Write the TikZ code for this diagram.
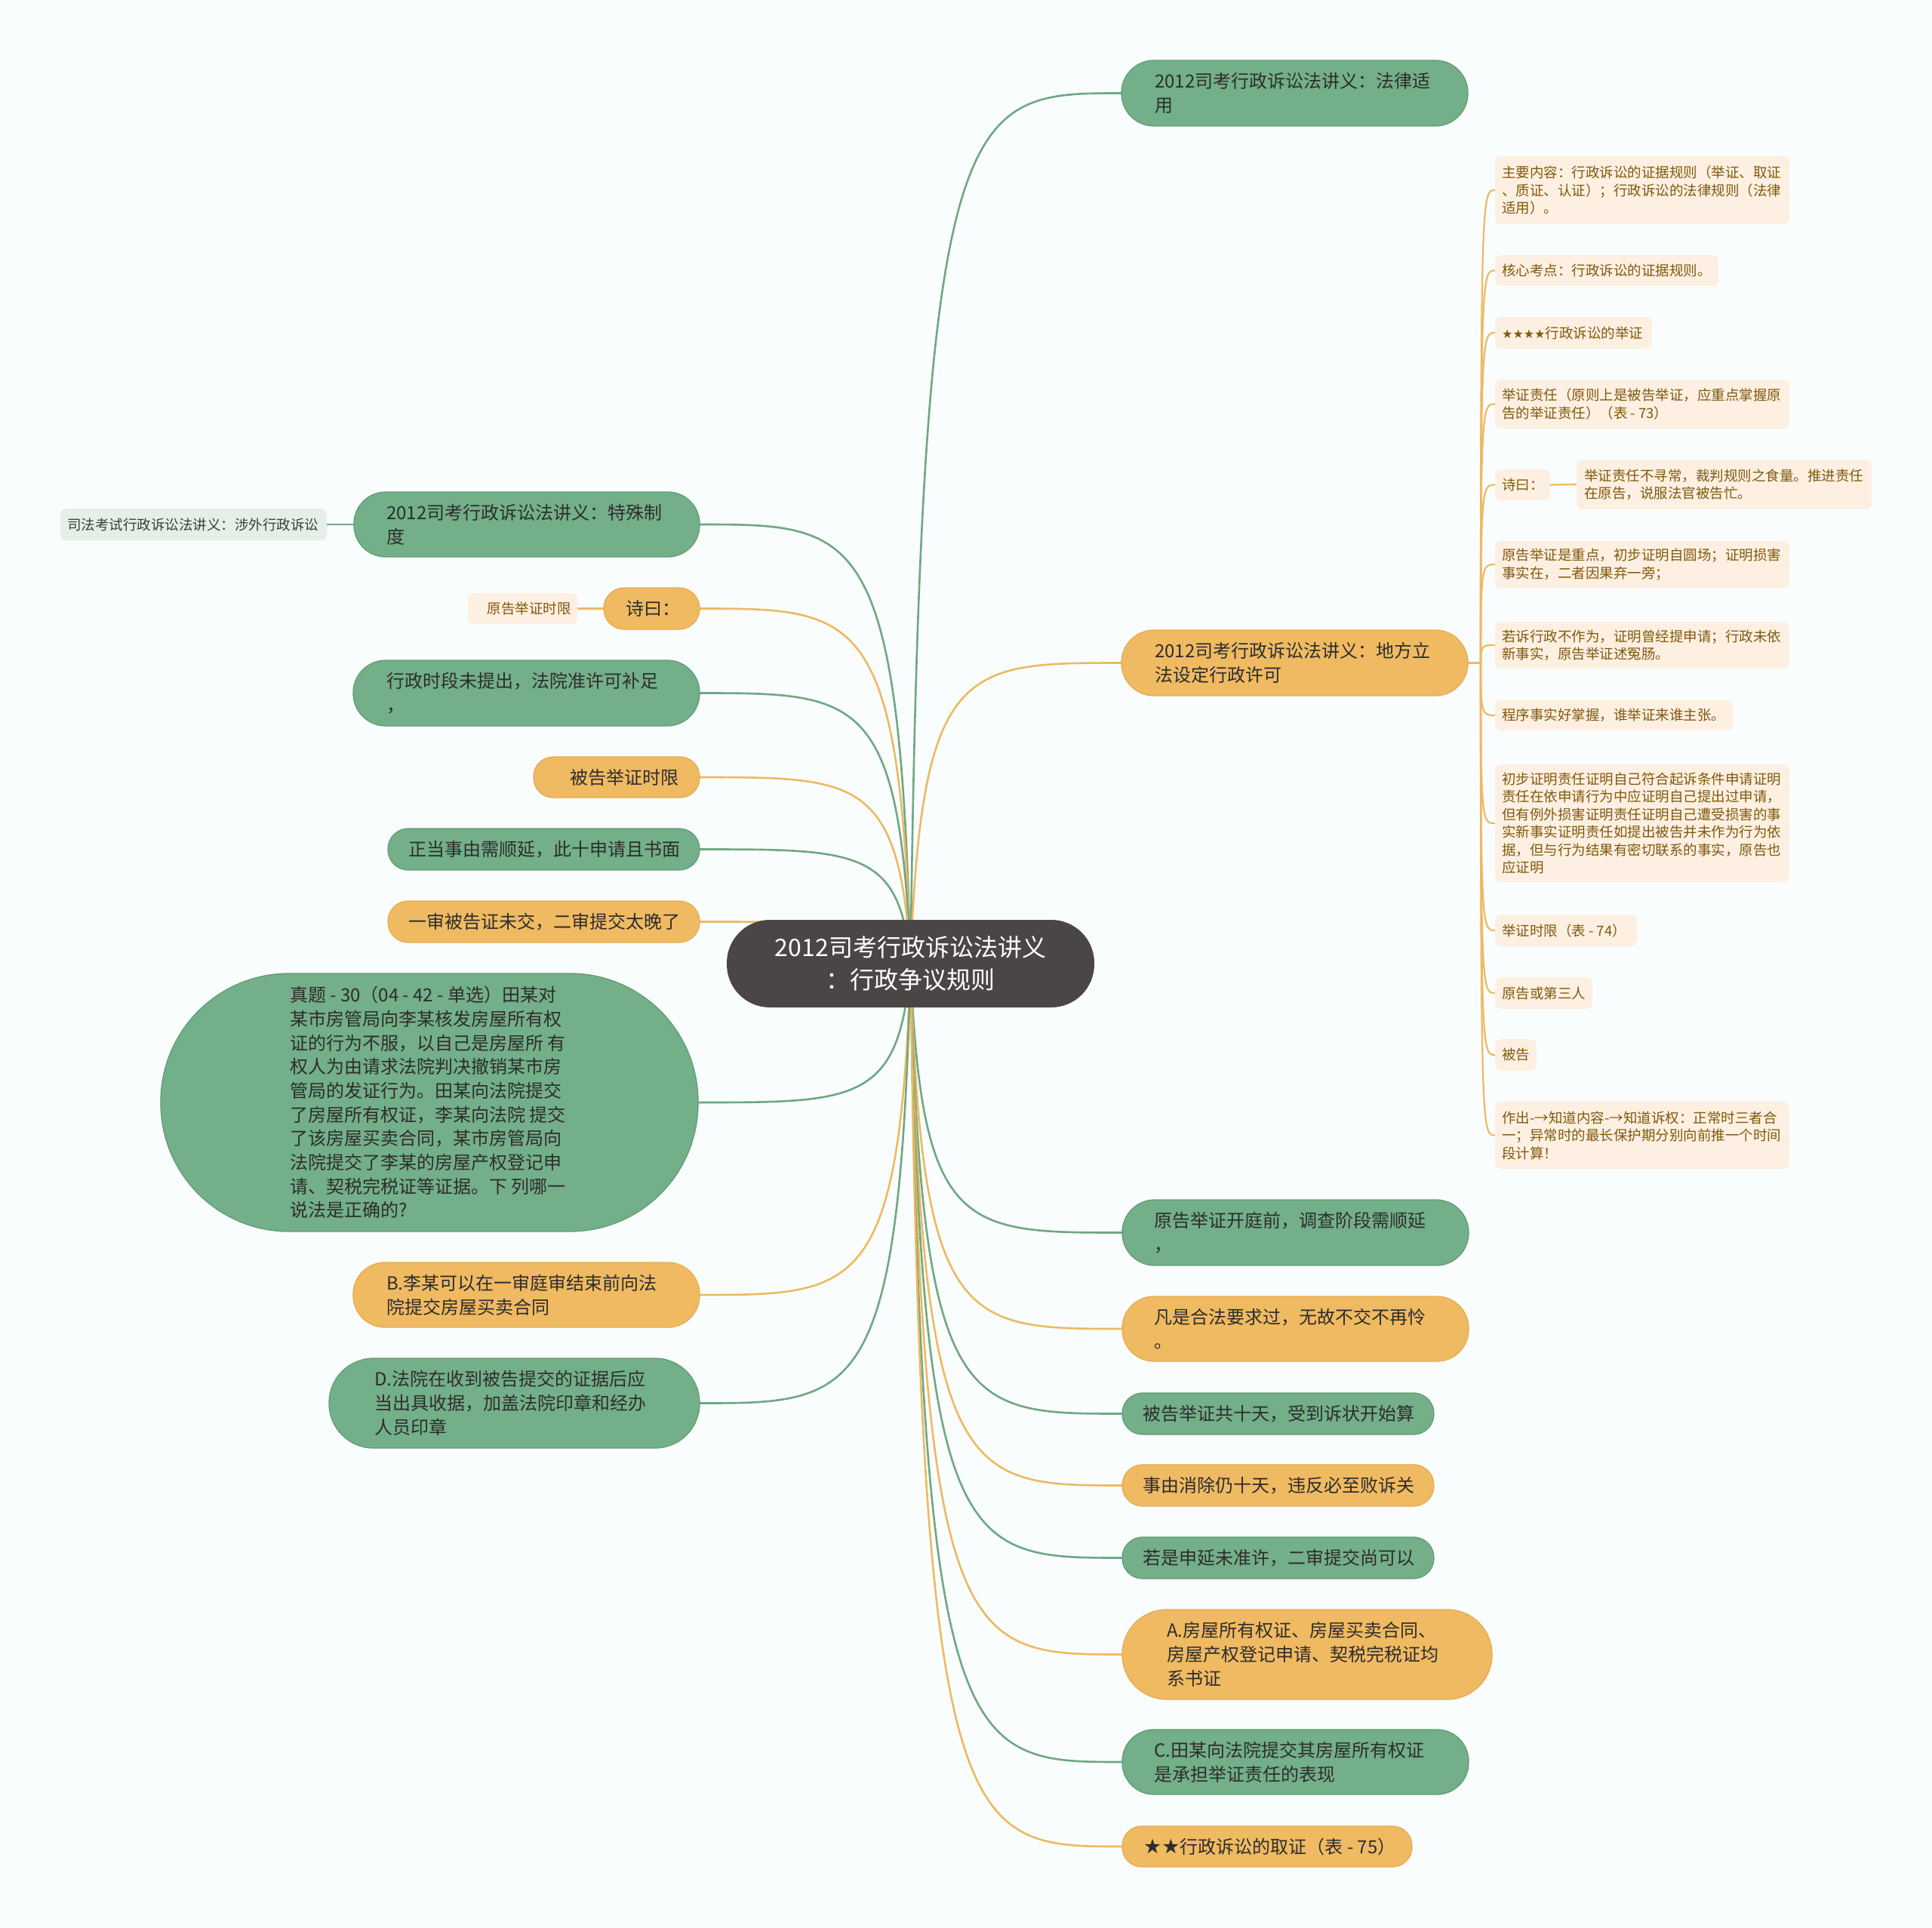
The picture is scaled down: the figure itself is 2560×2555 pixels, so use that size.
\documentclass[tikz,border=0pt]{standalone}
\usepackage{fontspec}
\setmainfont{Noto Sans CJK SC}
\newfontfamily\symf{DejaVu Sans}
\pgfdeclarelayer{bg}
\pgfsetlayers{bg,main}
\definecolor{bgcol}{RGB}{250,253,253}
\definecolor{gfill}{RGB}{115,175,136}
\definecolor{gdraw}{RGB}{98,158,118}
\definecolor{ofill}{RGB}{240,186,98}
\definecolor{odraw}{RGB}{230,172,82}
\definecolor{pfill}{RGB}{253,240,226}
\definecolor{lgfill}{RGB}{228,240,231}
\definecolor{cfill}{RGB}{75,70,70}
\definecolor{gcol}{RGB}{110,168,130}
\definecolor{ocol}{RGB}{238,185,98}
\definecolor{tmain}{RGB}{45,45,45}
\definecolor{tsub}{RGB}{130,88,12}
\definecolor{tlg}{RGB}{60,60,60}
\begin{document}
\begin{tikzpicture}[x=1pt,y=-1pt,
  box/.style={draw, line width=1.3pt, inner sep=0pt, outer sep=0pt},
  gbox/.style={box, fill=gfill, draw=gdraw},
  obox/.style={box, fill=ofill, draw=odraw},
  pbox/.style={fill=pfill, inner sep=0pt, outer sep=0pt, rounded corners=8pt},
  lgbox/.style={fill=lgfill, inner sep=0pt, outer sep=0pt, rounded corners=8pt},
  cbox/.style={fill=cfill, inner sep=0pt, outer sep=0pt},
  wh/.style 2 args={minimum width=#1pt, minimum height=#2pt},
  rc/.style={rounded corners=#1pt},
  mtxt/.style={inner sep=0pt, align=left, text=tmain, font=\fontsize{24}{32}\selectfont},
  stxt/.style={inner sep=0pt, align=left, text=tsub, font=\fontsize{18.5}{23.5}\selectfont},
  gline/.style={draw=gcol, line width=2.6pt},
  oline/.style={draw=ocol, line width=2.6pt},
  subline/.style={draw=ocol, line width=2.2pt},
]
\useasboundingbox (0,0) rectangle (2560,2555);
\begin{pgfonlayer}{bg}
\fill[bgcol] (0,0) rectangle (2560,2555);
\end{pgfonlayer}

% center
\node[cbox, rc=57, wh={487}{116}] (C) at (1206.5,1277) {};
\node[inner sep=0pt, align=center, text=white, font=\fontsize{32}{43}\selectfont] (Ct) at (C.center) {2012司考行政诉讼法讲义\\：行政争议规则};

% right main nodes
\node[gbox, rc=43, wh={459}{87}] (R1) at (1715.5,123.5) {};
\node[mtxt, anchor=west] (R1t) at ([xshift=44pt]R1.west) {2012司考行政诉讼法讲义：法律适\\用};
\node[obox, rc=43, wh={459}{87}] (R2) at (1715.5,878.5) {};
\node[mtxt, anchor=west] (R2t) at ([xshift=44pt]R2.west) {2012司考行政诉讼法讲义：地方立\\法设定行政许可};
\node[gbox, rc=43, wh={459}{87}] (R3) at (1716.5,1633.5) {};
\node[mtxt, anchor=west] (R3t) at ([xshift=42pt]R3.west) {原告举证开庭前，调查阶段需顺延\\，};
\node[obox, rc=42, wh={459}{86}] (R4) at (1716.5,1761) {};
\node[mtxt, anchor=west] (R4t) at ([xshift=42pt]R4.west) {凡是合法要求过，无故不交不再怜\\。};
\node[gbox, rc=27, wh={413}{55}] (R5) at (1693.5,1873.5) {};
\node[mtxt, anchor=west] (R5t) at ([xshift=27pt]R5.west) {被告举证共十天，受到诉状开始算};
\node[obox, rc=27, wh={413}{55}] (R6) at (1693.5,1968.5) {};
\node[mtxt, anchor=west] (R6t) at ([xshift=27pt]R6.west) {事由消除仍十天，违反必至败诉关};
\node[gbox, rc=27, wh={413}{55}] (R7) at (1693.5,2064.5) {};
\node[mtxt, anchor=west] (R7t) at ([xshift=27pt]R7.west) {若是申延未准许，二审提交尚可以};
\node[obox, rc=59, wh={490}{119}] (R8) at (1732,2192.5) {};
\node[mtxt, anchor=west] (R8t) at ([xshift=59pt]R8.west) {A.房屋所有权证、房屋买卖合同、\\房屋产权登记申请、契税完税证均\\系书证};
\node[gbox, rc=42, wh={459}{86}] (R9) at (1716.5,2335) {};
\node[mtxt, anchor=west] (R9t) at ([xshift=42pt]R9.west) {C.田某向法院提交其房屋所有权证\\是承担举证责任的表现};
\node[obox, rc=26, wh={384}{54}] (R10) at (1679,2447) {};
\node[mtxt, anchor=west] (R10t) at ([xshift=28pt]R10.west) {{\symf\fontsize{27}{27}\selectfont ★★}行政诉讼的取证（表 - 75）};

% left main nodes
\node[gbox, rc=42, wh={458}{86}] (L1) at (698,695) {};
\node[mtxt, anchor=west] (L1t) at ([xshift=43pt]L1.west) {2012司考行政诉讼法讲义：特殊制\\度};
\node[lgbox, wh={353}{42}] (L1a) at (256.5,695) {};
\node[stxt, text=tlg, anchor=west] (L1at) at ([xshift=9pt]L1a.west) {司法考试行政诉讼法讲义：涉外行政诉讼};
\node[obox, rc=27, wh={127}{55}] (L2) at (863.5,806.5) {};
\node[mtxt, anchor=west] (L2t) at ([xshift=29pt]L2.west) {诗曰：};
\node[pbox, wh={145}{41}] (L2a) at (692.5,806.5) {};
\node[stxt, anchor=east] (L2at) at ([xshift=-8pt]L2a.east) {原告举证时限};
\node[gbox, rc=43, wh={459}{87}] (L3) at (697.5,918.5) {};
\node[mtxt, anchor=west] (L3t) at ([xshift=44pt]L3.west) {行政时段未提出，法院准许可补足\\，};
\node[obox, rc=26, wh={220}{54}] (L4) at (817,1030) {};
\node[mtxt, anchor=east] (L4t) at ([xshift=-27pt]L4.east) {被告举证时限};
\node[gbox, rc=27, wh={413}{55}] (L5) at (720.5,1125.5) {};
\node[mtxt, anchor=west] (L5t) at ([xshift=27pt]L5.west) {正当事由需顺延，此十申请且书面};
\node[obox, rc=27, wh={413}{55}] (L6) at (720.5,1221.5) {};
\node[mtxt, anchor=west] (L6t) at ([xshift=27pt]L6.west) {一审被告证未交，二审提交太晚了};
\node[gbox, rc=170, wh={712}{342}] (L7) at (569,1461) {};
\node[mtxt, anchor=west, font=\fontsize{24}{31.7}\selectfont] (L7t) at ([xshift=171pt]L7.west) {真题 - 30（04 - 42 - 单选）田某对\\某市房管局向李某核发房屋所有权\\证的行为不服，以自己是房屋所 有\\权人为由请求法院判决撤销某市房\\管局的发证行为。田某向法院提交\\了房屋所有权证，李某向法院 提交\\了该房屋买卖合同，某市房管局向\\法院提交了李某的房屋产权登记申\\请、契税完税证等证据。下 列哪一\\说法是正确的?};
\node[obox, rc=42, wh={459}{86}] (L8) at (697.5,1716) {};
\node[mtxt, anchor=west] (L8t) at ([xshift=44pt]L8.west) {B.李某可以在一审庭审结束前向法\\院提交房屋买卖合同};
\node[gbox, rc=59, wh={491}{119}] (L9) at (681.5,1859.5) {};
\node[mtxt, anchor=west] (L9t) at ([xshift=60pt]L9.west) {D.法院在收到被告提交的证据后应\\当出具收据，加盖法院印章和经办\\人员印章};

% sub nodes of R2
\node[pbox, wh={390}{90}] (c1) at (2176,252) {};
\node[stxt, anchor=west] (c1t) at ([xshift=9pt]c1.west) {主要内容：行政诉讼的证据规则（举证、取证\\、质证、认证）；行政诉讼的法律规则（法律\\适用）。};
\node[pbox, wh={296}{41}] (c2) at (2129,358.5) {};
\node[stxt, anchor=west] (c2t) at ([xshift=9pt]c2.west) {核心考点：行政诉讼的证据规则。};
\node[pbox, wh={208}{42}] (c3) at (2085,441) {};
\node[stxt, anchor=west] (c3t) at ([xshift=9pt]c3.west) {{\symf\fontsize{16}{16}\selectfont ★★★★}行政诉讼的举证};
\node[pbox, wh={390}{65}] (c4) at (2176,535.5) {};
\node[stxt, anchor=west] (c4t) at ([xshift=9pt]c4.west) {举证责任（原则上是被告举证，应重点掌握原\\告的举证责任）（表 - 73）};
\node[pbox, wh={73}{41}] (c5) at (2017.5,642.5) {};
\node[stxt, anchor=west] (c5t) at ([xshift=9pt]c5.west) {诗曰：};
\node[pbox, wh={391}{66}] (c5a) at (2284.5,642) {};
\node[stxt, anchor=west] (c5at) at ([xshift=10pt]c5a.west) {举证责任不寻常，裁判规则之食量。推进责任\\在原告，说服法官被告忙。};
\node[pbox, wh={390}{63}] (c6) at (2176,748) {};
\node[stxt, anchor=west] (c6t) at ([xshift=9pt]c6.west) {原告举证是重点，初步证明自圆场；证明损害\\事实在，二者因果弃一旁；};
\node[pbox, wh={390}{62}] (c7) at (2176,855) {};
\node[stxt, anchor=west] (c7t) at ([xshift=9pt]c7.west) {若诉行政不作为，证明曾经提申请；行政未依\\新事实，原告举证述冤肠。};
\node[pbox, wh={315}{41}] (c8) at (2138.5,948) {};
\node[stxt, anchor=west] (c8t) at ([xshift=9pt]c8.west) {程序事实好掌握，谁举证来谁主张。};
\node[pbox, wh={390}{156}] (c9) at (2176,1091) {};
\node[stxt, anchor=west] (c9t) at ([xshift=9pt]c9.west) {初步证明责任证明自己符合起诉条件申请证明\\责任在依申请行为中应证明自己提出过申请，\\但有例外损害证明责任证明自己遭受损害的事\\实新事实证明责任如提出被告并未作为行为依\\据，但与行为结果有密切联系的事实，原告也\\应证明};
\node[pbox, wh={188}{42}] (c10) at (2075,1233) {};
\node[stxt, anchor=west] (c10t) at ([xshift=9pt]c10.west) {举证时限（表 - 74）};
\node[pbox, wh={129}{42}] (c11) at (2045.5,1316) {};
\node[stxt, anchor=west] (c11t) at ([xshift=9pt]c11.west) {原告或第三人};
\node[pbox, wh={55}{42}] (c12) at (2008.5,1398) {};
\node[stxt, anchor=west] (c12t) at ([xshift=9pt]c12.west) {被告};
\node[pbox, wh={390}{89}] (c13) at (2176,1504.5) {};
\node[stxt, anchor=west] (c13t) at ([xshift=9pt]c13.west) {作出-→知道内容-→知道诉权：正常时三者合\\一；异常时的最长保护期分别向前推一个时间\\段计算！};

% connectors
\begin{pgfonlayer}{bg}
\draw[gline] (C.center) .. controls (1220.5,123.5) and (1276.5,123.5) .. (R1.west);
\draw[oline] (C.center) .. controls (1220.5,878.5) and (1276.5,878.5) .. (R2.west);
\draw[gline] (C.center) .. controls (1220.5,1633.5) and (1276.5,1633.5) .. (R3.west);
\draw[oline] (C.center) .. controls (1220.5,1761) and (1276.5,1761) .. (R4.west);
\draw[gline] (C.center) .. controls (1220.5,1873.5) and (1276.5,1873.5) .. (R5.west);
\draw[oline] (C.center) .. controls (1220.5,1968.5) and (1276.5,1968.5) .. (R6.west);
\draw[gline] (C.center) .. controls (1220.5,2064.5) and (1276.5,2064.5) .. (R7.west);
\draw[oline] (C.center) .. controls (1220.5,2192.5) and (1276.5,2192.5) .. (R8.west);
\draw[gline] (C.center) .. controls (1220.5,2335) and (1276.5,2335) .. (R9.west);
\draw[oline] (C.center) .. controls (1220.5,2447) and (1276.5,2447) .. (R10.west);
\draw[gline] (C.center) .. controls (1192.5,695) and (1136.5,695) .. (L1.east);
\draw[oline] (C.center) .. controls (1192.5,806.5) and (1136.5,806.5) .. (L2.east);
\draw[gline] (C.center) .. controls (1192.5,918.5) and (1136.5,918.5) .. (L3.east);
\draw[oline] (C.center) .. controls (1192.5,1030) and (1136.5,1030) .. (L4.east);
\draw[gline] (C.center) .. controls (1192.5,1125.5) and (1136.5,1125.5) .. (L5.east);
\draw[oline] (C.center) .. controls (1192.5,1221.5) and (1136.5,1221.5) .. (L6.east);
\draw[gline] (C.center) .. controls (1192.5,1461) and (1136.5,1461) .. (L7.east);
\draw[oline] (C.center) .. controls (1192.5,1716) and (1136.5,1716) .. (L8.east);
\draw[gline] (C.center) .. controls (1192.5,1859.5) and (1136.5,1859.5) .. (L9.east);
\draw[gline] (L1.west) -- (L1a.east);
\draw[oline] (L2.west) -- (L2a.east);
\draw[subline] (c5.east) -- (c5a.west);
\foreach \n/\yy in {c1/252,c2/358.5,c3/441,c4/535.5,c5/642.5,c6/748,c7/855,c8/948,c9/1091,c10/1233,c11/1316,c12/1398,c13/1504.5}
  \draw[subline] (R2.east) -- (1962,878.5) .. controls (1962,\yy) and (1964,\yy) .. (\n.west);
\end{pgfonlayer}
\end{tikzpicture}
\end{document}
